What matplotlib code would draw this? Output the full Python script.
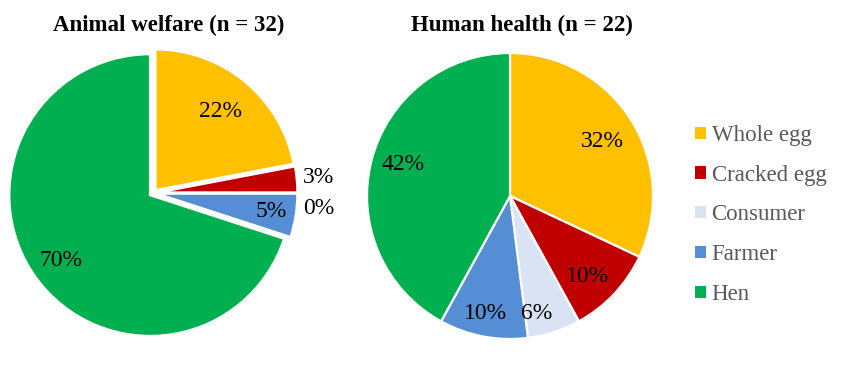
import numpy as np
import matplotlib.pyplot as plt
from matplotlib.patches import Patch

plt.rcParams['font.family'] = ['Liberation Serif', 'DejaVu Serif']

categories = ["Whole egg", "Cracked egg", "Consumer", "Farmer", "Hen"]
colors = ["#FFC000", "#C00000", "#DAE3F3", "#558ED5", "#00B050"]
welfare = [22, 3, 0, 5, 70]
health = [32, 10, 6, 10, 42]
welfare_title = "Animal welfare (n = 32)"
health_title = "Human health (n = 22)"

W, H = 850, 385
fig = plt.figure(figsize=(8.5, 3.85), dpi=100)


def pie_axes(cx, cy, r):
    # cx, cy, r in pixels (cy from top)
    return fig.add_axes([(cx - r) / W, (H - cy - r) / H, 2 * r / W, 2 * r / H])


def draw_pie(ax, vals, explode, lw, dists, shifts):
    wedges, _ = ax.pie(vals, colors=colors, startangle=90, counterclock=False,
                       explode=[explode] * len(vals),
                       wedgeprops=dict(edgecolor="white", linewidth=lw))
    for w in wedges:
        w.set_clip_on(False)
    for w, v, d, s in zip(wedges, vals, dists, shifts):
        th = np.deg2rad((w.theta1 + w.theta2) / 2 + s)
        ax.text(d * np.cos(th), d * np.sin(th), f"{v}%", ha="center",
                va="center", fontsize=17, color="black")
    ax.set_xlim(-1, 1)
    ax.set_ylim(-1, 1)
    ax.set_aspect("equal")
    ax.axis("off")


ax1 = pie_axes(153, 193, 141)
draw_pie(ax1, welfare, 0.025, 1.8, [0.75, 1.18, 1.18, 0.85, 0.81],
         [0, 0, -5.5, 0, 0])

ax2 = pie_axes(510, 196, 143)
draw_pie(ax2, health, 0.0, 1.6, [0.75, 0.78, 0.84, 0.84, 0.78],
         [-2, -3, -5, -1, -2])

fig.text(169 / W, 1 - 25 / H, welfare_title, ha="center", va="center",
         fontsize=16.5, fontweight="bold")
fig.text(522 / W, 1 - 25 / H, health_title, ha="center", va="center",
         fontsize=16.5, fontweight="bold")

handles = [Patch(facecolor=c, edgecolor="none") for c in colors]
leg = fig.legend(handles, categories, loc="center left",
                 bbox_to_anchor=(684 / W, 1 - 215 / H), frameon=False,
                 fontsize=16.5, handlelength=0.45, handleheight=0.45,
                 handletextpad=0.25, labelspacing=0.82, borderpad=0)
for t in leg.get_texts():
    t.set_color("#595959")

fig.savefig("out.png", dpi=100)
